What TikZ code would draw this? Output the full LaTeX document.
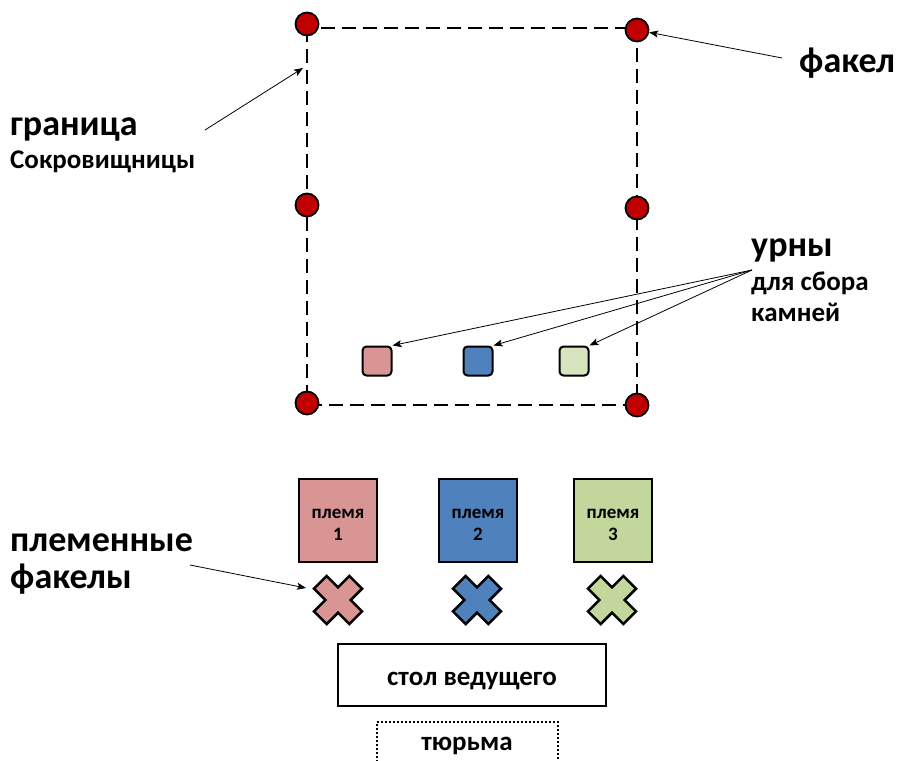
\documentclass[tikz,border=0pt]{standalone}
\usepackage{fontspec}
\setmainfont{Carlito}
\usetikzlibrary{arrows.meta}

\definecolor{torchred}{HTML}{C00000}
\definecolor{tribepink}{HTML}{D99594}
\definecolor{tribeblue}{HTML}{4F81BD}
\definecolor{tribegreen}{HTML}{C3D69B}
\definecolor{urngreen}{HTML}{D7E4BD}

\tikzset{
  torch/.style={circle, draw=black, fill=torchred, line width=1.8pt, minimum size=23pt, inner sep=0pt},
  urn/.style={draw, rounded corners=4pt, line width=2pt, minimum size=29pt, inner sep=0pt},
  tribe/.style={draw, line width=2pt, minimum width=78pt, minimum height=83pt, align=center,
    text height=40pt, text depth=0pt, font=\bfseries\fontsize{19}{22}\selectfont},
  bigtext/.style={anchor=base west, inner sep=0pt, font=\bfseries\fontsize{36}{40}\selectfont},
  smalltext/.style={anchor=base west, inner sep=0pt, font=\bfseries\fontsize{27}{30}\selectfont},
  pointer/.style={-{Stealth[length=9pt, width=7pt, inset=2pt]}, line width=0.8pt},
  border/.style={dash pattern=on 14pt off 7pt, line width=2pt},
  flag/.style={line width=2.5pt, line join=miter}
}

\begin{document}
\begin{tikzpicture}[x=1pt, y=-1pt]
\useasboundingbox (0,0) rectangle (904,760);

% treasury border with torches
\draw[border] (307,28) rectangle (637,405);
\node[torch] (torchtl) at (307,24) {};
\node[torch] (torchtr) at (637,30) {};
\node[torch] (torchml) at (307,205) {};
\node[torch] (torchmr) at (637,208) {};
\node[torch] (torchbl) at (307,403) {};
\node[torch] (torchbr) at (637,405) {};

% urns
\node[urn, fill=tribepink] (urn1) at (377,361) {};
\node[urn, fill=tribeblue] (urn2) at (478,361) {};
\node[urn, fill=urngreen] (urn3) at (574,361) {};

% tribes
\node[tribe, fill=tribepink] (tribe1) at (338,520) {племя\\1};
\node[tribe, fill=tribeblue] (tribe2) at (478,520) {племя\\2};
\node[tribe, fill=tribegreen] (tribe3) at (613,520) {племя\\3};

% tribal torches
\foreach \x/\c in {338/tribepink, 477/tribeblue, 612/tribegreen}
  \filldraw[flag, fill=\c, shift={(\x,600)}, rotate=45]
    (9,25) -- (9,9) -- (25,9) -- (25,-9) -- (9,-9) -- (9,-25) -- (-9,-25) -- (-9,-9)
    -- (-25,-9) -- (-25,9) -- (-9,9) -- (-9,25) -- cycle;

% host table and prison
\node[draw, line width=2.5pt, minimum width=268pt, minimum height=62pt,
  text height=20pt, text depth=0pt,
  font=\bfseries\fontsize{27}{30}\selectfont] (host) at (472,675) {стол ведущего};
\node[draw, dotted, line width=2pt, minimum width=181pt, anchor=base,
  text height=12pt, text depth=20pt, inner ysep=16pt,
  font=\bfseries\fontsize{27}{30}\selectfont] (prison) at (467,750) {тюрьма};

% labels
\node[bigtext] (fakel) at (799,72) {факел};
\node[bigtext] (granica) at (10,135) {граница};
\node[smalltext] (treasury) at (10,168) {Сокровищницы};
\node[bigtext] (urny) at (751,256) {урны};
\node[smalltext] (urny2) at (751,290) {для сбора};
\node[smalltext] (urny3) at (751,321) {камней};
\node[bigtext] (plem) at (10,551) {племенные};
\node[bigtext] (plem2) at (10,588) {факелы};

% arrows
\coordinate (fakeltail) at (782,58);
\coordinate (bordertail) at (205,130);
\coordinate (borderhead) at (303,68);
\coordinate (urntail) at (752,270);
\coordinate (flagtail) at (190,565);
\coordinate (flaghead) at (306,588);
\draw[pointer] (fakeltail) -- (torchtr);
\draw[pointer] (bordertail) -- (borderhead);
\foreach \u in {urn1,urn2,urn3}
  \draw[pointer] (urntail) -- (\u.north east);
\draw[pointer] (flagtail) -- (flaghead);
\end{tikzpicture}
\end{document}
